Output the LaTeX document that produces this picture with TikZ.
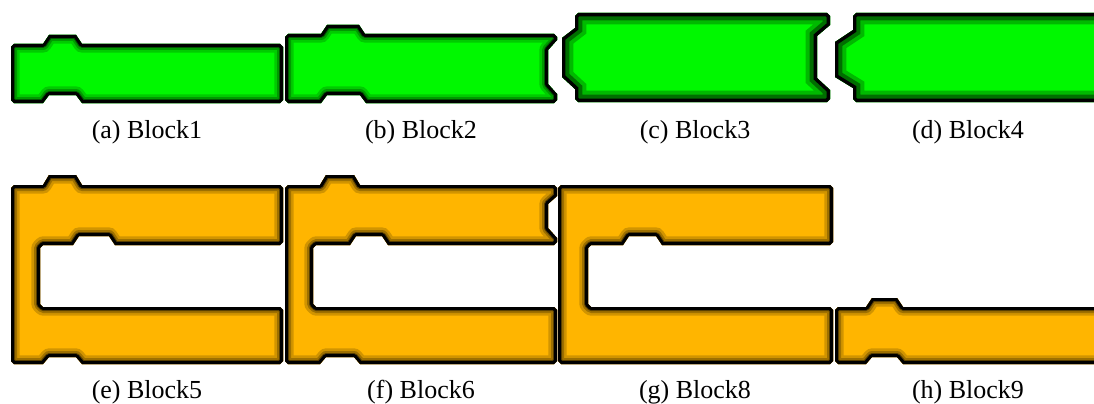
\documentclass[tikz,border=0pt]{standalone}
\usepackage{fontspec}
\setmainfont{Liberation Serif}
\definecolor{gfill}{RGB}{0,248,0}
\definecolor{gdark}{RGB}{0,110,0}
\definecolor{gmid}{RGB}{0,185,0}
\definecolor{ofill}{RGB}{255,181,0}
\newcommand\smoothblk[2]{%
  \fill[#1] #2;
  \begin{scope}
    \clip #2;
    \draw[line width=13, #1!82!black, line join=round] #2;
    \draw[line width=9, #1!62!black, line join=round] #2;
    \draw[line width=6, #1!35!black, line join=round] #2;
    \draw[line width=4.4, black, line join=round] #2;
  \end{scope}}
\newcommand\stepblk[1]{%
  \fill[gfill] #1;
  \begin{scope}
    \clip #1;
    \draw[line width=17, gmid, line join=miter] #1;
    \draw[line width=11, gdark, line join=miter] #1;
    \draw[line width=5, black, line join=miter] #1;
  \end{scope}}
\tikzset{lbl/.style={font=\fontsize{19.5}{22}\selectfont, inner sep=0pt}}
\begin{document}
\begin{tikzpicture}[x=0.75pt,y=-0.75pt]
\clip (0,0) rectangle (1094,403);
\fill[white] (0,0) rectangle (1094,403);
% Block1
\smoothblk{gfill}{(11,47) -- (14,44) -- (43,44) -- (49,35) -- (76,35) -- (82,44) -- (280,44) -- (283,47) -- (283,100) -- (280,103) -- (82,103) -- (76,95) -- (49,95) -- (43,103) -- (14,103) -- (11,100) -- cycle}
% Block2
\smoothblk{gfill}{(285,37) -- (288,34) -- (321,34) -- (327,25) -- (359,25) -- (365,34) -- (554,34) -- (557,37) -- (557,40) -- (548,50) -- (548,84) -- (557,94) -- (557,100) -- (554,103) -- (366,103) -- (360,95) -- (327,95) -- (321,103) -- (288,103) -- (285,100) -- cycle}
% Block3
\stepblk{(575,16) -- (578,13) -- (827,13) -- (830,16) -- (830,25) -- (817,36) -- (817,78) -- (830,90) -- (830,99) -- (827,102) -- (578,102) -- (575,99) -- (575,89) -- (562,77) -- (562,38) -- (575,28) -- cycle}
% Block4
\stepblk{(853,16) -- (856,13) -- (1110,13) -- (1110,102) -- (856,102) -- (853,99) -- (853,88) -- (835,77) -- (835,42) -- (853,30) -- cycle}
% Block5
\smoothblk{ofill}{(11,188) -- (14,185) -- (43,185) -- (49,175) -- (76,175) -- (82,185) -- (280,185) -- (283,188) -- (283,242) -- (280,245) -- (115,245) -- (109,236) -- (79,236) -- (73,245) -- (43,245) -- (40,248) -- (40,304) -- (43,307) -- (280,307) -- (283,310) -- (283,361) -- (280,364) -- (82,364) -- (76,357) -- (49,357) -- (43,364) -- (14,364) -- (11,361) -- cycle}
% Block6
\smoothblk{ofill}{(285,188) -- (288,185) -- (320,185) -- (326,175) -- (354,175) -- (360,185) -- (554,185) -- (557,188) -- (557,196) -- (548,204) -- (548,228) -- (557,238) -- (557,242) -- (554,245) -- (388,245) -- (382,236) -- (356,236) -- (350,245) -- (316,245) -- (313,248) -- (313,304) -- (316,307) -- (554,307) -- (557,310) -- (557,361) -- (554,364) -- (360,364) -- (354,357) -- (326,357) -- (320,364) -- (288,364) -- (285,361) -- cycle}
% Block8
\smoothblk{ofill}{(558,188) -- (561,185) -- (830,185) -- (833,188) -- (833,242) -- (830,245) -- (662,245) -- (656,236) -- (629,236) -- (623,245) -- (591,245) -- (588,248) -- (588,304) -- (591,307) -- (830,307) -- (833,310) -- (833,361) -- (830,364) -- (561,364) -- (558,361) -- cycle}
% Block9
\smoothblk{ofill}{(835,310) -- (838,307) -- (866,307) -- (872,298) -- (897,298) -- (903,307) -- (1110,307) -- (1110,364) -- (903,364) -- (897,357) -- (872,357) -- (866,364) -- (838,364) -- (835,361) -- cycle}
% labels
\node[lbl] (la) at (147,132) {(a) Block1};
\node[lbl] (lb) at (421,132) {(b) Block2};
\node[lbl] (lc) at (695,132) {(c) Block3};
\node[lbl] (ld) at (968,132) {(d) Block4};
\node[lbl] (le) at (147,392) {(e) Block5};
\node[lbl] (lf) at (421,392) {(f) Block6};
\node[lbl] (lg) at (695,392) {(g) Block8};
\node[lbl] (lh) at (968,392) {(h) Block9};
\end{tikzpicture}
\end{document}
